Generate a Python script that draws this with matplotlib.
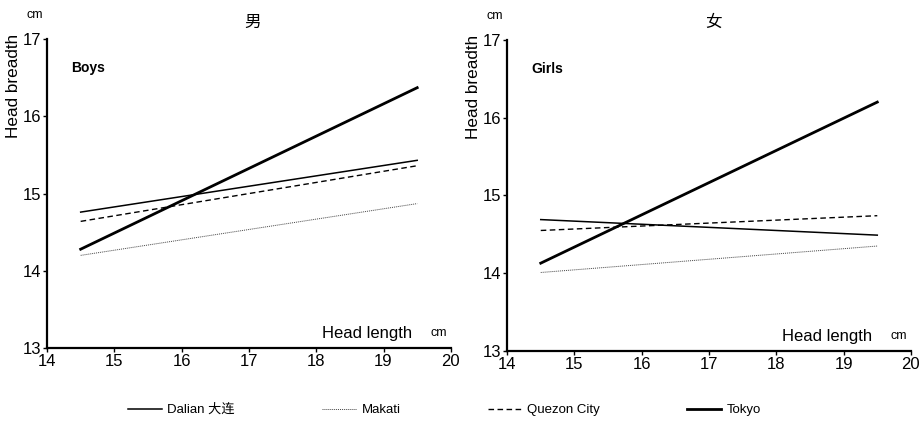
import matplotlib
matplotlib.use("Agg")
import matplotlib.pyplot as plt

plt.rcParams['font.family'] = ['Liberation Sans', 'Noto Sans CJK SC', 'DejaVu Sans']

# ===== データ =====
x_range = [14.5, 19.5]
cities = ["Dalian 大连", "Makati", "Quezon City", "Tokyo"]

boys_dalian = [14.76, 15.43]
boys_makati = [14.20, 14.87]
boys_quezon = [14.64, 15.36]
boys_tokyo = [14.28, 16.37]

girls_dalian = [14.69, 14.49]
girls_makati = [14.01, 14.35]
girls_quezon = [14.55, 14.74]
girls_tokyo = [14.13, 16.20]

x_ticks = [14, 15, 16, 17, 18, 19, 20]
y_ticks = [13, 14, 15, 16, 17]

styles = {
    "Dalian 大连": dict(color="black", lw=1.1, ls="-"),
    "Makati": dict(color="#444444", lw=0.7, ls=(0, (1, 1))),
    "Quezon City": dict(color="black", lw=1.0, ls=(0, (4, 2.5))),
    "Tokyo": dict(color="black", lw=2.0, ls="-"),
}

fig = plt.figure(figsize=(9.22, 4.24), dpi=100)
ax_b = fig.add_axes([0.051, 0.179, 0.438, 0.729])
ax_g = fig.add_axes([0.550, 0.172, 0.438, 0.734])

panels = [
    (ax_b, [boys_dalian, boys_makati, boys_quezon, boys_tokyo], "男", "Boys"),
    (ax_g, [girls_dalian, girls_makati, girls_quezon, girls_tokyo], "女", "Girls"),
]

handles = []
for ax, series, title, label in panels:
    hs = []
    for name, vals in zip(cities, series):
        h, = ax.plot(x_range, vals, label=name, **styles[name])
        hs.append(h)
    handles = hs
    ax.set_xlim(14, 20)
    ax.set_ylim(13, 17)
    ax.set_xticks(x_ticks)
    ax.set_yticks(y_ticks)
    for s in ["top", "right"]:
        ax.spines[s].set_visible(False)
    for s in ["left", "bottom"]:
        ax.spines[s].set_linewidth(1.6)
    ax.tick_params(direction="out", length=3, width=1, labelsize=12, pad=1)

    # 縦軸ラベル（左上に寄せる）
    ax.text(-0.082, 1.015, "Head breadth", transform=ax.transAxes, rotation=90,
            ha="center", va="top", fontsize=12.3)
    ax.text(-0.03, 1.078, "cm", transform=ax.transAxes, ha="center", va="center", fontsize=9)
    ax.text(0.51, 1.055, title, transform=ax.transAxes, ha="center", va="center",
            fontsize=12, family=["Noto Sans CJK SC"])
    ax.text(0.06, 0.905, label, transform=ax.transAxes, ha="left", va="center",
            fontsize=10, fontweight="bold")
    ax.text(0.903, 0.048, "Head length", transform=ax.transAxes, ha="right", va="center",
            fontsize=12)
    ax.text(0.97, 0.048, "cm", transform=ax.transAxes, ha="center", va="center", fontsize=9)

fig.legend(handles=handles, labels=cities, loc="center", bbox_to_anchor=(0.482, 0.033),
           ncol=4, frameon=False, handlelength=2.6, columnspacing=6.6,
           handletextpad=0.4, prop={"size": 9.5})

fig.savefig("out.png", dpi=100)
